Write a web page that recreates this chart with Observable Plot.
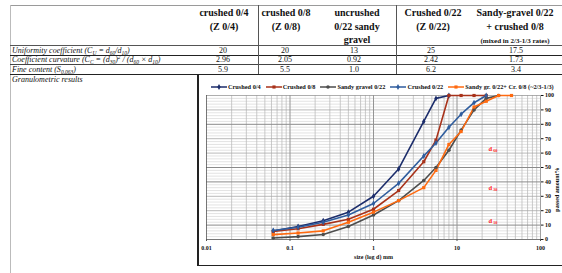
<!DOCTYPE html>
<html><head><meta charset="utf-8">
<script src="https://cdn.jsdelivr.net/npm/d3@7"></script>
<script src="https://cdn.jsdelivr.net/npm/@observablehq/plot@0.6"></script>
<style>
body{margin:0;width:562px;height:273px;position:relative;overflow:hidden;background:#fff;font-family:"Liberation Serif","Times New Roman",serif;color:#111;}
.hl{position:absolute;background:#333;}
.vl{position:absolute;background:#333;}
.hdr{position:absolute;top:6px;font-weight:bold;font-size:10px;line-height:13.5px;text-align:center;transform:translateX(-50%);white-space:nowrap;}
.hdr small{font-size:7px;}
.lab{position:absolute;left:12px;font-style:italic;font-size:8px;line-height:9px;white-space:nowrap}
.val{position:absolute;font-size:8px;line-height:9px;transform:translateX(-50%);white-space:nowrap}
sub,sup{font-size:5.5px;line-height:0;}
sub{vertical-align:-1.5px}
sup{vertical-align:3px}
#legend{position:absolute;left:211px;top:83px;font-weight:bold;font-size:6.3px;display:flex;align-items:center;white-space:nowrap;}
#legend .it{display:flex;align-items:center;margin-right:5px}
#legend svg{margin-right:1px}
#chart{position:absolute;left:197px;top:80px}
</style></head>
<body>
<div id="table"></div>
<div id="chart"></div>
<div id="legend"></div>
<script>
// ---- table data ----
const headers = [
  "crushed 0/4<br>(Z 0/4)",
  "crushed 0/8<br>(Z 0/8)",
  "uncrushed<br>0/22 sandy<br>gravel",
  "Crushed 0/22<br>(Z 0/22)",
  "Sandy-gravel 0/22<br>+ crushed 0/8<br><small>(mixed in 2/3-1/3 rates)</small>"
];
const rowLabels = [
  "Uniformity coefficient (C<sub>U</sub> = d<sub>60</sub>/d<sub>10</sub>)",
  "Coefficient curvature (C<sub>C</sub> = (d<sub>30</sub>)<sup>2</sup> / (d<sub>60</sub> × d<sub>10</sub>)",
  "Fine content (S<sub>0.063</sub>)",
  "Granulometric results"
];
const uniformity = ["20","20","13","25","17.5"];
const curvature = ["2.96","2.05","0.92","2.42","1.73"];
const fines = ["5.9","5.5","1.0","6.2","3.4"];

// ---- chart data ----
const sizes = [0.063,0.125,0.25,0.5,1,2,4,5.6,8,11.2,16,22.4,31.5,45];
const seriesNames = ["Crushed 0/4","Crushed 0/8","Sandy gravel 0/22","Crushed 0/22","Sandy gr. 0/22+ Cr. 0/8 (~2/3-1/3)"];
const crushed04  = [5.9,9,13,19,30,49,82,98,100,null,null,null,null,null];
const crushed08  = [5.5,7.5,10.5,14,21,34,54,69,100,100,100,100,null,null];
const sandy022   = [1.0,2,3.5,9,17,27,41,50,62,76,90,98,100,null];
const crushed022 = [6.2,8.5,12,17,25,39,58,67,78,87,95,100,null,null];
const mix        = [3.4,4.5,6,12,19,27,36,48,66,75,92,96,100,100];
const xTicks = [0.01,0.1,1,10,100];
const yTicks = [0,10,20,30,40,50,60,70,80,90,100];
const dLabels = ["60","30","10"];
const dLevels = [63,36,13];

const colors = ["#1c2d6b","#a8321a","#4d4d4d","#2f5d9e","#ff6a10"];
const symbols = ["diamond","square","circle","diamond","square"];

// ---- table layout ----
const T = document.getElementById("table");
const hdrX = [224,286,357,433,515];
const valX = [223,285,354,431,516];
const rowY = [45.5,55,64.5,74.5];
function el(cls, html, style){const d=document.createElement("div");d.className=cls;d.innerHTML=html||"";Object.assign(d.style,style);T.appendChild(d);return d;}
headers.forEach((h,i)=>el("hdr",h,{left:hdrX[i]+"px"}));
rowLabels.forEach((r,i)=>el("lab",r,{top:rowY[i]+"px"}));
[uniformity,curvature,fines].forEach((row,j)=>row.forEach((v,i)=>el("val",v,{left:valX[i]+"px",top:rowY[j]+"px"})));
// rules
el("hl","",{left:"10px",top:"5px",width:"552px",height:"1px",background:"#9a9a9a"});
el("vl","",{left:"10px",top:"5px",width:"1px",height:"268px",background:"#bbb"});
el("hl","",{left:"10px",top:"45px",width:"552px",height:"1px",background:"#555"});
el("hl","",{left:"10px",top:"54.5px",width:"552px",height:"1.3px",background:"#222"});
el("hl","",{left:"10px",top:"64px",width:"552px",height:"1px",background:"#444"});
el("hl","",{left:"10px",top:"73.5px",width:"552px",height:"1.5px",background:"#222"});
el("vl","",{left:"258px",top:"5px",width:"1px",height:"69px",background:"#555"});
el("vl","",{left:"396px",top:"5px",width:"1px",height:"69px",background:"#555"});
el("vl","",{left:"197px",top:"74px",width:"1.5px",height:"192px",background:"#222"});
el("hl","",{left:"197px",top:"264.5px",width:"365px",height:"1.8px",background:"#222"});

// ---- chart ----
const allSeries = [crushed04,crushed08,sandy022,crushed022,mix];
const data = [];
allSeries.forEach((vals,si)=>vals.forEach((v,i)=>{ if(v!=null) data.push({series:seriesNames[si], size:sizes[i], pass:v}); }));

const minorX = [];
for (let e=-2;e<2;e++) for (let m=2;m<=9;m++) minorX.push(m*Math.pow(10,e));
const minorY = d3.range(0,101,2).filter(v=>v%10!==0);
const darkY = [10,40,50,80];
const midY = yTicks.filter(v=>!darkY.includes(v) && v!==0 && v!==100);

const chart = Plot.plot({
  width: 365, height: 185,
  marginLeft: 9, marginRight: 22, marginTop: 15, marginBottom: 26,
  x: {type:"log", domain:[0.01,100]},
  y: {domain:[0,100]},
  color: {domain: seriesNames, range: colors},
  symbol: {domain: seriesNames, range: symbols},
  style: {fontFamily:"'Liberation Serif', serif", fontSize:"6px", fontWeight:"bold", background:"transparent", color:"#111"},
  marks: [
    Plot.ruleY(minorY, {stroke:"#d0d0d0", strokeWidth:0.6}),
    Plot.ruleX(minorX, {stroke:"#bdbdbd", strokeWidth:0.8}),
    Plot.ruleY(midY, {stroke:"#a8a8a8", strokeWidth:0.8}),
    Plot.ruleY(darkY, {stroke:"#8a8a8a", strokeWidth:1}),
    Plot.ruleY([100], {stroke:"#999", strokeWidth:0.8}),
    Plot.ruleX([0.1,1,10], {stroke:"#949494", strokeWidth:1}),
    Plot.ruleX([0.01], {stroke:"#555", strokeWidth:0.8}),
    Plot.ruleX([100], {stroke:"#888", strokeWidth:0.8}),
    Plot.ruleY([0], {stroke:"#555", strokeWidth:0.8}),
    Plot.axisX({ticks:xTicks, tickFormat:d=>String(d), tickSize:2, tickPadding:4, label:null, stroke:"#555"}),
    Plot.axisY({anchor:"right", ticks:yTicks, tickSize:2.5, tickPadding:2, label:null, textAnchor:"start"}),
    Plot.text(["size (log d) mm"], {frameAnchor:"bottom", dy:19, fontSize:6}),
    Plot.text(["passed amount%"], {frameAnchor:"right", rotate:-90, dx:17, fontSize:6}),
    Plot.line(data, {x:"size", y:"pass", z:"series", stroke:"series", strokeWidth:1.6}),
    Plot.dot(data, {x:"size", y:"pass", fill:"series", symbol:"series", r:1.8, stroke:"none"}),
    Plot.text(dLabels, {x:()=>25, y:(d,i)=>dLevels[i], text:()=>"d", fill:"#ff1a1a", fontSize:6.5, fontWeight:"bold"}),
    Plot.text(dLabels, {x:()=>25, y:(d,i)=>dLevels[i], text:d=>d, fill:"#ff1a1a", fontSize:4, fontWeight:"bold", dx:5, dy:1.8})
  ]
});
document.getElementById("chart").appendChild(chart);

// ---- legend ----
const L = document.getElementById("legend");
seriesNames.forEach((n,i)=>{
  const it = document.createElement("div"); it.className="it";
  const svg = d3.create("svg").attr("width",16).attr("height",6);
  svg.append("line").attr("x1",0).attr("x2",16).attr("y1",3).attr("y2",3).attr("stroke",colors[i]).attr("stroke-width",1.5);
  svg.append("path").attr("transform","translate(8,3)").attr("d", d3.symbol(symbols[i]==="square"?d3.symbolSquare:symbols[i]==="circle"?d3.symbolCircle:d3.symbolDiamond, 10)()).attr("fill",colors[i]);
  it.appendChild(svg.node());
  const s=document.createElement("span"); s.textContent=n; it.appendChild(s);
  L.appendChild(it);
});
</script>
</body></html>
